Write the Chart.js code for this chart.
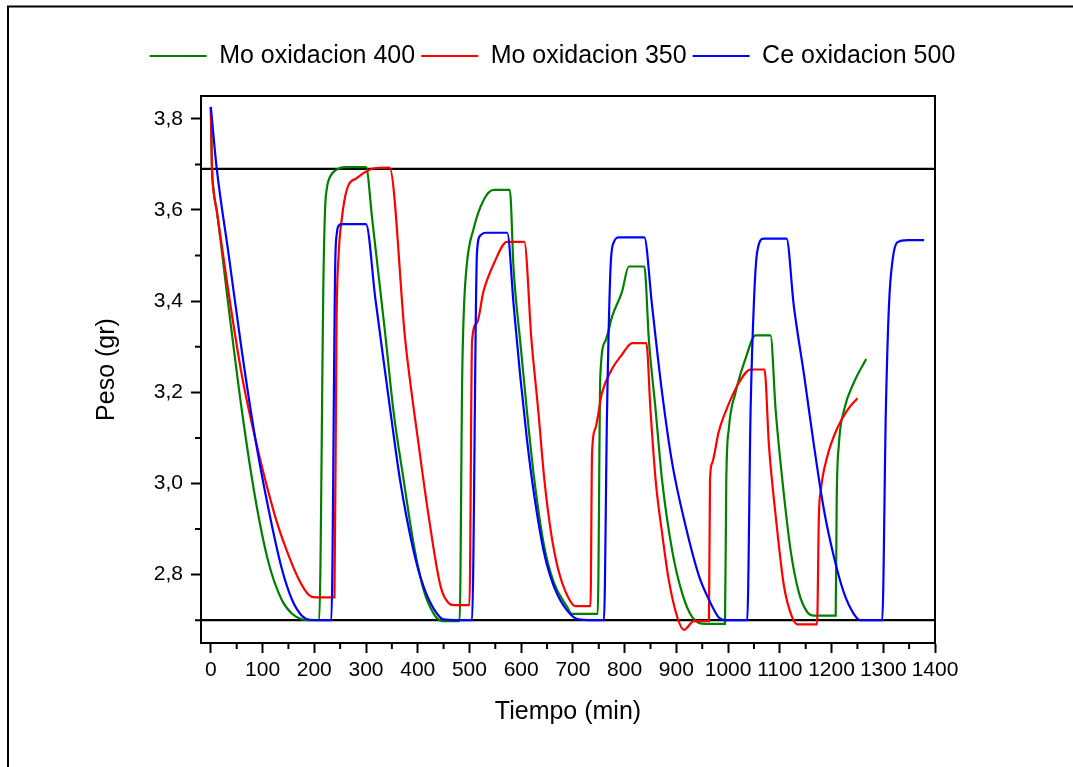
<!DOCTYPE html>
<html><head><meta charset="utf-8">
<script src="https://cdn.jsdelivr.net/npm/chart.js@4.4.1/dist/chart.umd.min.js"></script>
<style>html,body{margin:0;padding:0;background:#fff;}canvas{display:block;}</style>
</head><body>
<canvas id="c" width="1073" height="767"></canvas>
<script>
// ---- data (time in min, weight in g) ----
const greenLabel = 'Mo oxidacion 400';
const greenT = [0,2,5,11.5,34,60,86,111,137,157,176,195,209.5,218,221,224,231,244,260,300,312,337,353,373,392,411,431,447,481,486,489,495,508,527,547,578,585.5,598,611,624,643.5,663,689,698,748,753,763,776,795,808,838,847,860,872.5,892,911,931,956,994,996.5,1001.5,1014,1034,1053,1082,1092,1105,1121,1137,1153,1166,1208,1210,1214,1224,1243,1267];
const greenW = [3.826,3.70,3.645,3.598,3.39,3.16,2.967,2.829,2.745,2.714,2.702,2.70,2.70,3.47,3.605,3.645,3.674,3.689,3.694,3.694,3.58,3.33,3.16,3.006,2.868,2.768,2.714,2.698,2.698,3.237,3.375,3.482,3.559,3.621,3.644,3.644,3.467,3.313,3.16,3.021,2.868,2.783,2.729,2.714,2.714,3.237,3.313,3.367,3.421,3.476,3.476,3.313,3.16,3.006,2.852,2.76,2.706,2.692,2.692,3.006,3.121,3.198,3.275,3.325,3.325,3.16,3.006,2.852,2.76,2.718,2.71,2.71,2.967,3.083,3.16,3.221,3.273];

const redLabel = 'Mo oxidacion 350';
const redT = [0,2,5,11.5,34,60,89,124,147,169.5,189,202,239,243,247,253,263,282,308,320,345.5,376,402,421,444,460,470,500,505,514.5,527,547,572.6,606,620,633,645,658,671,690,705,734,737,743.5,756,776,795,814.5,842,850,860,872.5,885,902,914.5,934,963,965,969,982,1001.5,1021,1043.5,1070.4,1079,1092,1108,1124,1134,1172,1175.5,1179,1192,1211,1230,1250];
const redW = [3.826,3.70,3.645,3.598,3.421,3.237,3.083,2.929,2.852,2.791,2.756,2.75,2.75,3.35,3.50,3.579,3.645,3.670,3.689,3.692,3.693,3.313,3.083,2.929,2.775,2.737,2.733,2.733,3.313,3.352,3.421,3.482,3.53,3.53,3.313,3.16,3.006,2.89,2.814,2.752,2.731,2.731,3.067,3.121,3.198,3.252,3.283,3.308,3.308,3.16,3.006,2.89,2.79,2.706,2.679,2.698,2.698,3.006,3.044,3.114,3.175,3.221,3.25,3.25,3.083,2.929,2.775,2.706,2.691,2.691,2.929,2.983,3.06,3.121,3.16,3.187];

const blueLabel = 'Ce oxidacion 500';
const blueT = [0,11.5,34,60,86,111.5,137,157,176,192,233,240.5,244,247,253,300,318,337,347,366,392,411,431,450,505,514.5,521,531,573,585.5,598,611,624,643.5,663,689,711,760,766,772.5,779,789,838,853,872.5,892,918,943.5,963,982,995,1037,1043.5,1050,1056,1069,1113,1127,1147,1166,1185,1205,1224,1243,1256,1298,1305,1311,1318,1327,1347,1379];
const blueW = [3.826,3.69,3.506,3.29,3.098,2.944,2.814,2.745,2.71,2.701,2.70,3.48,3.552,3.565,3.569,3.569,3.406,3.244,3.16,3.006,2.852,2.775,2.725,2.702,2.70,3.506,3.544,3.55,3.55,3.39,3.237,3.098,2.983,2.852,2.775,2.721,2.702,2.70,3.16,3.467,3.529,3.54,3.54,3.39,3.198,3.044,2.906,2.798,2.745,2.706,2.70,2.70,3.16,3.40,3.506,3.537,3.537,3.39,3.237,3.083,2.944,2.837,2.76,2.714,2.70,2.70,3.16,3.39,3.49,3.529,3.534,3.534];

// reference horizontal lines
const refT = [-19, 1400];
const refUpperW = [3.69, 3.69];
const refLowerW = [2.70, 2.70];

// axes
const xMin = -19, xMax = 1400;
const yMin = 2.65, yMax = 3.85;
const xMajorTicks = [0,100,200,300,400,500,600,700,800,900,1000,1100,1200,1300,1400];
const xMinorTicks = [50,150,250,350,450,550,650,750,850,950,1050,1150,1250,1350];
const yMajorTicks = [2.8,3.0,3.2,3.4,3.6,3.8];
const yMinorTicks = [2.7,2.9,3.1,3.3,3.5,3.7];

const FONT = "'Liberation Sans', Arial, sans-serif";
const pts = (t, w) => t.map((v, i) => ({x: v, y: w[i]}));

const pageFrame = {
  id: 'pageFrame',
  beforeDraw(chart) {
    const ctx = chart.ctx;
    ctx.save();
    ctx.fillStyle = '#fff';
    ctx.fillRect(0, 0, chart.width, chart.height);
    ctx.strokeStyle = '#000';
    ctx.lineWidth = 2;
    ctx.strokeRect(8, 6.5, 1300, 1300);
    ctx.restore();
  }
};
const minorTickPlugin = {
  id: 'minorTicks',
  afterDraw(chart) {
    const {ctx, chartArea: a} = chart;
    const x = chart.scales.x, y = chart.scales.y;
    ctx.save();
    ctx.strokeStyle = '#000';
    ctx.lineWidth = 2;
    ctx.beginPath();
    xMinorTicks.forEach(v => { const px = x.getPixelForValue(v); ctx.moveTo(px, a.bottom); ctx.lineTo(px, a.bottom + 6); });
    yMinorTicks.forEach(v => { const py = y.getPixelForValue(v); ctx.moveTo(a.left, py); ctx.lineTo(a.left - 6, py); });
    ctx.stroke();
    ctx.restore();
  }
};
const legendSpace = {
  id: 'legendSpace',
  beforeInit(chart) {
    const orig = chart.legend.fit;
    chart.legend.fit = function () { orig.call(this); this.height += 17.5; };
  }
};

const series = (label, t, w, color, order) => ({
  label, data: pts(t, w), borderColor: color, backgroundColor: color,
  borderWidth: 2.2, pointRadius: 0, pointStyle: 'line',
  cubicInterpolationMode: 'monotone', order
});
const refLine = (label, w) => ({
  label, data: pts(refT, w), borderColor: '#000', backgroundColor: '#000',
  borderWidth: 2.2, pointRadius: 0, order: 5
});

new Chart(document.getElementById('c'), {
  type: 'line',
  data: {
    datasets: [
      series(greenLabel, greenT, greenW, '#008000', 3),
      series(redLabel, redT, redW, '#ff0000', 2),
      series(blueLabel, blueT, blueW, '#0000ff', 1),
      refLine('ref1', refUpperW),
      refLine('ref2', refLowerW)
    ]
  },
  options: {
    responsive: false,
    devicePixelRatio: 1,
    animation: false,
    events: [],
    layout: {padding: {left: 32, right: 0, top: 37.5, bottom: 0}},
    plugins: {
      tooltip: {enabled: false},
      legend: {
        position: 'top',
        align: 'center',
        labels: {
          filter: item => item.datasetIndex < 3,
          sort: (a, b) => a.datasetIndex - b.datasetIndex,
          usePointStyle: true,
          pointStyleWidth: 57,
          boxHeight: 25,
          padding: 6,
          color: '#000',
          font: {family: FONT, size: 25}
        }
      }
    },
    scales: {
      x: {
        type: 'linear', position: 'bottom', min: xMin, max: xMax,
        afterBuildTicks: s => { s.ticks = xMajorTicks.map(v => ({value: v})); },
        afterFit: s => { s.height = 124; },
        ticks: {color: '#000', font: {family: FONT, size: 21}, padding: 5, maxRotation: 0, autoSkip: false, callback: v => String(v)},
        grid: {drawOnChartArea: false, drawTicks: true, tickLength: 10, tickWidth: 2, tickColor: '#000'},
        border: {display: true, color: '#000', width: 2},
        title: {display: true, text: 'Tiempo (min)', color: '#000', font: {family: FONT, size: 25}, padding: {top: 0, bottom: 40}}
      },
      y: {
        type: 'linear', position: 'left', min: yMin, max: yMax,
        afterBuildTicks: s => { s.ticks = yMajorTicks.map(v => ({value: v})); },
        afterFit: s => { s.width = 169; },
        ticks: {color: '#000', font: {family: FONT, size: 21}, padding: 8, autoSkip: false, callback: v => v.toFixed(1).replace('.', ',')},
        grid: {drawOnChartArea: false, drawTicks: true, tickLength: 10, tickWidth: 2, tickColor: '#000'},
        border: {display: true, color: '#000', width: 2},
        title: {display: true, text: 'Peso (gr)', color: '#000', font: {family: FONT, size: 25}, padding: {top: 60, bottom: 0}}
      },
      x2: {
        type: 'linear', position: 'top', min: xMin, max: xMax,
        afterFit: s => { s.height = 0; },
        ticks: {display: false},
        grid: {display: true, drawOnChartArea: false, drawTicks: false},
        border: {display: true, color: '#000', width: 2}
      },
      y2: {
        type: 'linear', position: 'right', min: yMin, max: yMax,
        afterFit: s => { s.width = 138; },
        ticks: {display: false},
        grid: {display: true, drawOnChartArea: false, drawTicks: false},
        border: {display: true, color: '#000', width: 2}
      }
    }
  },
  plugins: [pageFrame, minorTickPlugin, legendSpace]
});
</script>
</body></html>
